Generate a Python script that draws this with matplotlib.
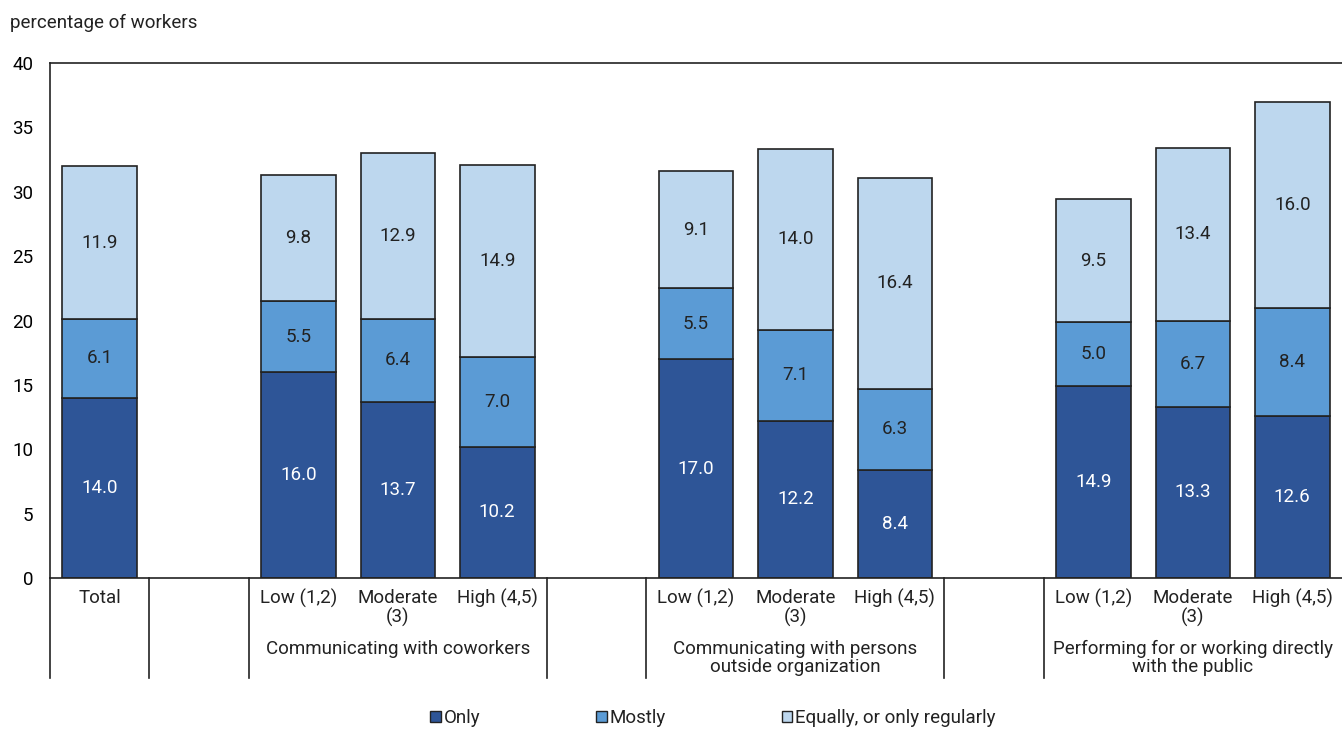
import matplotlib
matplotlib.use("Agg")
import matplotlib.pyplot as plt
from matplotlib.patches import Patch
from matplotlib import font_manager as fm

# ---------------- data ----------------
bar_labels = ["Total", "", "Low (1,2)", "Moderate\n(3)", "High (4,5)", "",
              "Low (1,2)", "Moderate\n(3)", "High (4,5)", "",
              "Low (1,2)", "Moderate\n(3)", "High (4,5)"]
only   = [14.0, None, 16.0, 13.7, 10.2, None, 17.0, 12.2, 8.4, None, 14.9, 13.3, 12.6]
mostly = [6.1,  None, 5.5,  6.4,  7.0,  None, 5.5,  7.1,  6.3, None, 5.0,  6.7,  8.4]
equally= [11.9, None, 9.8,  12.9, 14.9, None, 9.1,  14.0, 16.4, None, 9.5, 13.4, 16.0]
group_labels = ["Communicating with coworkers",
                "Communicating with persons\noutside organization",
                "Performing for or working directly\nwith the public"]
group_centers = [3, 7, 11]
series_names = ["Only", "Mostly", "Equally, or only regularly"]
colors = ["#2E5597", "#5B9BD5", "#BDD7EE"]
y_ticks = [0, 5, 10, 15, 20, 25, 30, 35, 40]

# ---------------- font ----------------
names = {f.name for f in fm.fontManager.ttflist}
fam = "Roboto" if "Roboto" in names else "DejaVu Sans"
plt.rcParams["font.family"] = [fam, "DejaVu Sans"]
plt.rcParams["text.color"] = "#222222"
FS = 13.5

W, H = 1342, 729
fig = plt.figure(figsize=(W / 100, H / 100), dpi=100)
ax_l, ax_r, ax_t, ax_b = 50, 1342, 63, 578
ax = fig.add_axes([ax_l / W, 1 - ax_b / H, (ax_r - ax_l) / W, (ax_b - ax_t) / H])
ax_h = ax_b - ax_t

xs = [i for i, v in enumerate(only) if v is not None]
o = [only[i] for i in xs]
m = [mostly[i] for i in xs]
e = [equally[i] for i in xs]
bw = 0.75
edge = "#222222"
ax.bar(xs, o, width=bw, color=colors[0], edgecolor=edge, linewidth=1.2, zorder=2)
ax.bar(xs, m, width=bw, bottom=o, color=colors[1], edgecolor=edge, linewidth=1.2, zorder=2)
b2 = [a + b for a, b in zip(o, m)]
ax.bar(xs, e, width=bw, bottom=b2, color=colors[2], edgecolor=edge, linewidth=1.2, zorder=2)

for x, a, b, c in zip(xs, o, m, e):
    ax.text(x, a / 2, f"{a:.1f}", ha="center", va="center", fontsize=FS, color="white")
    ax.text(x, a + b / 2, f"{b:.1f}", ha="center", va="center", fontsize=FS, color="#222222")
    ax.text(x, a + b + c / 2, f"{c:.1f}", ha="center", va="center", fontsize=FS, color="#222222")

ax.set_xlim(-0.5, 12.5)
ax.set_ylim(0, 40)
ax.set_yticks(y_ticks)
ax.set_yticklabels([str(t) for t in y_ticks], fontsize=FS)
ax.tick_params(axis="y", length=0, pad=12)
ax.set_xticks([])
for s in ["left", "bottom", "top"]:
    ax.spines[s].set_color("#222222")
    ax.spines[s].set_linewidth(1.2)
ax.spines["right"].set_visible(False)

# category labels
xt = ax.get_xaxis_transform()
for i, lab in enumerate(bar_labels):
    if lab:
        ax.text(i, -(589 - ax_b) / ax_h, lab, transform=xt, ha="center", va="top",
                fontsize=FS, linespacing=1.08, clip_on=False)
for gc, gl in zip(group_centers, group_labels):
    ax.text(gc, -(640 - ax_b) / ax_h, gl, transform=xt, ha="center", va="top",
            fontsize=FS, linespacing=0.97, clip_on=False)

# separators
for sx in [-0.5, 0.5, 1.5, 4.5, 5.5, 8.5, 9.5]:
    ax.plot([sx, sx], [0, -(678 - ax_b) / ax_h], transform=xt,
            color="#222222", linewidth=1.2, clip_on=False)

fig.text(10 / W, 1 - 23 / H, "percentage of workers", ha="left", va="center", fontsize=FS)

handles = [Patch(facecolor=c, edgecolor=edge, linewidth=1) for c in colors]
fig.legend(handles, series_names, loc="center", bbox_to_anchor=(713 / W, 1 - 718 / H),
           ncol=3, frameon=False, fontsize=FS, handlelength=0.55, handleheight=0.55,
           handletextpad=0.15, columnspacing=6.2)

fig.savefig("out.png", dpi=100)
